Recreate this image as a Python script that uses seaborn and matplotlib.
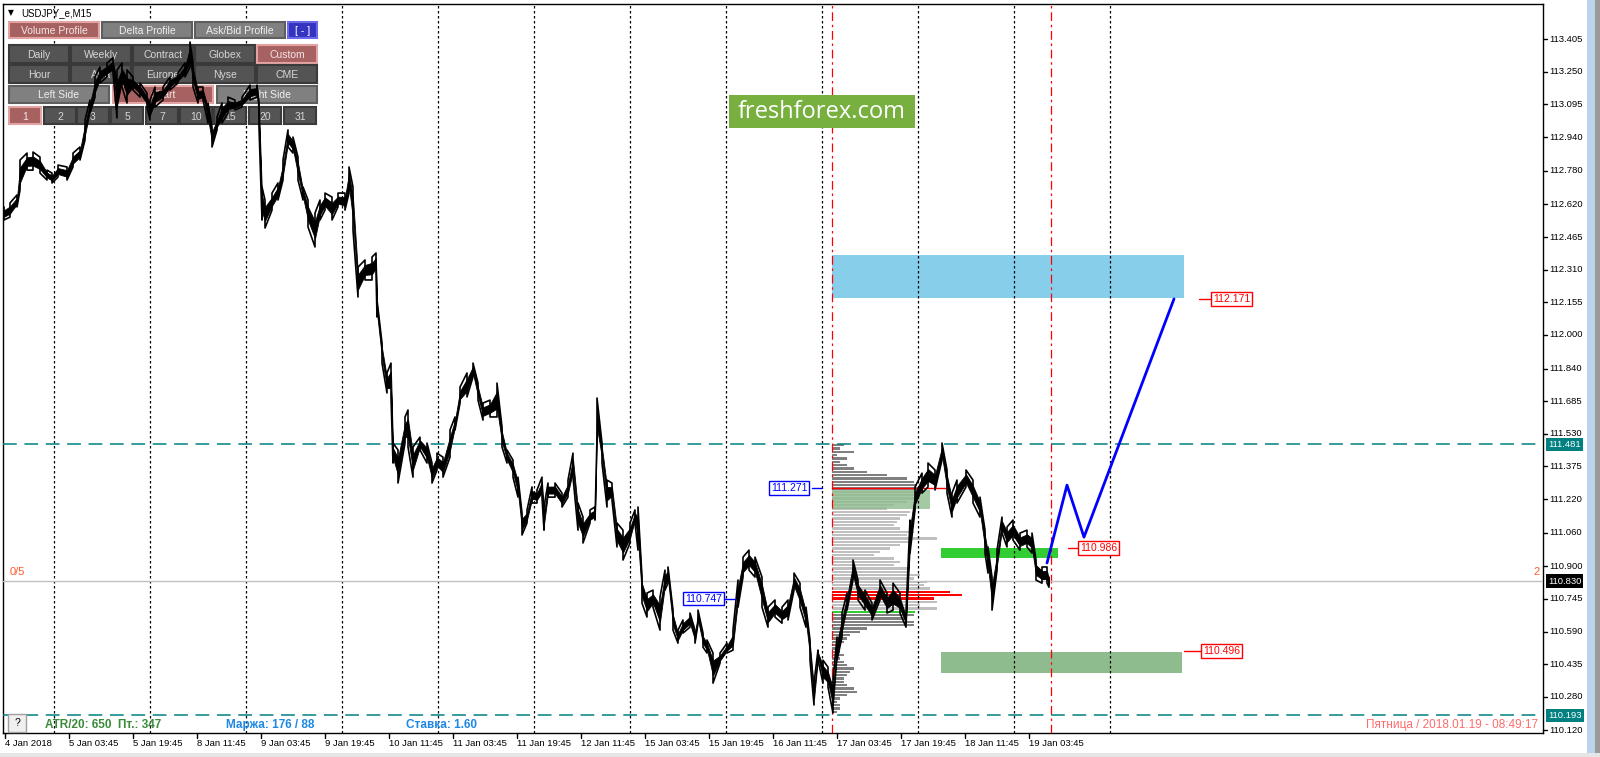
import matplotlib
matplotlib.use('Agg')
import matplotlib.pyplot as plt
import matplotlib.transforms as mtransforms
from matplotlib.patches import Rectangle
import pandas as pd
import seaborn as sns

W, H = 1600, 757

# USDJPY_e M15, bar 0 = 5 Jan 2018 00:00 (one bar = 15 min), high / low
price_bar = [-50, -44, -37, -34, -27, -21, -14, -7, -2, 4,
             13, 19, 26, 31, 36, 41, 46, 53, 59, 63,
             68, 73, 79, 86, 93, 96, 101, 109, 116, 124,
             131, 136, 139, 144, 149, 154, 158, 163, 168, 174,
             181, 188, 196, 203, 205, 208, 211, 218, 224, 229,
             234, 239, 244, 249, 254, 261, 266, 271, 278, 284,
             291, 295, 299, 304, 311, 318, 322, 323, 328, 333,
             337, 339, 344, 351, 354, 359, 366, 373, 378, 383,
             389, 396, 401, 406, 413, 419, 424, 429, 436, 443,
             448, 453, 459, 464, 468, 473, 478, 483, 488, 490,
             494, 501, 508, 514, 519, 524, 529, 536, 541, 543,
             548, 553, 558, 563, 569, 576, 581, 584, 588, 593,
             599, 606, 611, 614, 619, 624, 629, 636, 641, 644,
             649, 653, 659, 666, 673, 679, 684, 689, 695, 701,
             708, 714, 721, 728, 734, 740, 746, 752, 756, 760,
             764, 769, 774, 779, 783, 788, 793, 799, 804, 811,
             818, 826, 833, 839, 846, 852, 856, 861, 868, 874,
             881, 888, 893, 898, 903, 912, 919, 926, 931, 934,
             938, 943, 948, 953, 959, 966, 973, 978, 982, 988,
             993, 995]
price_high = [112.608, 112.627, 112.665, 112.831, 112.864, 112.869, 112.845, 112.783, 112.769, 112.807,
              112.798, 112.864, 112.893, 113.021, 113.116, 113.226, 113.273, 113.292, 113.316, 113.259,
              113.292, 113.259, 113.226, 113.197, 113.149, 113.116, 113.178, 113.178, 113.226, 113.245,
              113.292, 113.392, 113.292, 113.178, 113.178, 113.102, 112.988, 113.035, 113.102, 113.130,
              113.116, 113.130, 113.187, 113.187, 113.102, 112.703, 112.641, 112.674, 112.722, 112.831,
              112.974, 112.940, 112.845, 112.703, 112.641, 112.579, 112.641, 112.674, 112.655, 112.674,
              112.674, 112.798, 112.703, 112.322, 112.356, 112.370, 112.389, 112.166, 111.961, 111.819,
              111.866, 111.486, 111.453, 111.610, 111.643, 111.467, 111.514, 111.486, 111.391, 111.438,
              111.419, 111.548, 111.610, 111.752, 111.819, 111.866, 111.771, 111.676, 111.690, 111.771,
              111.562, 111.453, 111.405, 111.324, 111.153, 111.168, 111.277, 111.263, 111.324, 111.182,
              111.296, 111.296, 111.248, 111.310, 111.438, 111.201, 111.134, 111.168, 111.182, 111.700,
              111.486, 111.310, 111.296, 111.106, 111.072, 111.106, 111.168, 111.182, 110.849, 110.773,
              110.787, 110.754, 110.882, 110.897, 110.692, 110.597, 110.645, 110.678, 110.597, 110.692,
              110.583, 110.550, 110.488, 110.488, 110.535, 110.597, 110.835, 110.944, 110.977, 110.944,
              110.849, 110.706, 110.740, 110.706, 110.740, 110.868, 110.820, 110.706, 110.550, 110.345,
              110.502, 110.454, 110.421, 110.359, 110.564, 110.678, 110.773, 110.930, 110.835, 110.787,
              110.725, 110.835, 110.773, 110.820, 110.773, 110.678, 111.120, 111.277, 111.343, 111.391,
              111.358, 111.486, 111.358, 111.248, 111.310, 111.358, 111.310, 111.229, 111.072, 110.992,
              110.849, 110.977, 111.134, 111.087, 111.120, 111.058, 111.072, 111.058, 110.930, 110.897,
              110.897, 110.849]
price_low = [112.546, 112.560, 112.608, 112.688, 112.783, 112.783, 112.769, 112.736, 112.722, 112.750,
             112.736, 112.798, 112.831, 112.926, 113.054, 113.130, 113.197, 113.226, 113.245, 113.031,
             113.178, 113.102, 113.164, 113.130, 113.083, 113.021, 113.083, 113.116, 113.164, 113.197,
             113.226, 113.273, 113.178, 113.102, 113.116, 113.007, 112.893, 112.974, 113.007, 113.054,
             113.069, 113.083, 113.116, 113.130, 112.988, 112.546, 112.508, 112.593, 112.641, 112.736,
             112.893, 112.864, 112.736, 112.641, 112.513, 112.418, 112.546, 112.593, 112.546, 112.608,
             112.593, 112.674, 112.498, 112.180, 112.261, 112.261, 112.294, 112.085, 111.866, 111.724,
             111.705, 111.391, 111.296, 111.486, 111.467, 111.324, 111.453, 111.391, 111.296, 111.358,
             111.324, 111.419, 111.548, 111.676, 111.705, 111.800, 111.690, 111.595, 111.610, 111.610,
             111.467, 111.391, 111.324, 111.229, 111.049, 111.106, 111.201, 111.201, 111.229, 111.072,
             111.229, 111.229, 111.182, 111.229, 111.324, 111.072, 111.011, 111.106, 111.120, 111.514,
             111.391, 111.182, 111.215, 110.992, 110.930, 111.011, 111.106, 110.977, 110.725, 110.659,
             110.706, 110.597, 110.787, 110.820, 110.597, 110.535, 110.583, 110.611, 110.535, 110.630,
             110.516, 110.488, 110.345, 110.440, 110.488, 110.502, 110.706, 110.849, 110.882, 110.849,
             110.706, 110.611, 110.659, 110.630, 110.645, 110.787, 110.706, 110.611, 110.454, 110.241,
             110.454, 110.345, 110.326, 110.203, 110.454, 110.564, 110.692, 110.835, 110.740, 110.692,
             110.645, 110.740, 110.678, 110.692, 110.678, 110.611, 110.963, 111.168, 111.248, 111.277,
             111.263, 111.405, 111.248, 111.134, 111.201, 111.277, 111.201, 111.134, 110.963, 110.868,
             110.692, 110.882, 111.058, 110.992, 111.025, 110.977, 110.992, 110.963, 110.835, 110.820,
             110.820, 110.801]

# volume profile of the custom range (starts at bar 778), rows from the top down
profile_start = 778
profile_top = 111.476
profile_step = 0.01584
profile_volume = [12, 8, 22, 5, 15, 8, 15, 22, 35, 55,
                  75, 82, 85, 88, 82, 88, 82, 75, 62, 55,
                  78, 75, 68, 65, 62, 68, 82, 75, 105, 78,
                  68, 58, 48, 42, 62, 68, 62, 78, 75, 88,
                  82, 95, 92, 98, 118, 130, 102, 105, 88, 105,
                  83, 82, 75, 82, 82, 35, 28, 18, 15, 12,
                  8, 5, 8, 12, 8, 12, 15, 22, 18, 15,
                  12, 12, 15, 22, 25, 15, 8, 5, 8, 8, 5]
value_area_rows = (14, 50)
poc_rows = [44, 45, 46]
va_low_row = 50

# levels and zones
level_high = 111.481
level_low = 110.193
level_bid = 110.830
level_vpoc = 111.271
level_prev = 110.747
zone_sell = (778, 1130, 112.175, 112.380)
zone_buy = (887, 1004, 110.939, 110.987)
zone_support = (887, 1128, 110.394, 110.493)
zone_va = (778, 876, 111.172, 111.263)
forecast_bar = [993, 1013, 1030, 1120]
forecast_price = [110.916, 111.286, 111.039, 112.171]
range_marks = [778, 997]

price_ticks = ['113.405', '113.250', '113.095', '112.940', '112.780', '112.620', '112.465',
               '112.310', '112.155', '112.000', '111.840', '111.685', '111.530', '111.375',
               '111.220', '111.060', '110.900', '110.745', '110.590', '110.435', '110.280', '110.120']
time_bar = [-49, 15, 79, 143, 207, 271, 335, 399, 463, 527, 591, 655, 719, 783, 847, 911, 975]
time_labels = ['4 Jan 2018', '5 Jan 03:45', '5 Jan 19:45', '8 Jan 11:45', '9 Jan 03:45',
               '9 Jan 19:45', '10 Jan 11:45', '11 Jan 03:45', '11 Jan 19:45', '12 Jan 11:45',
               '15 Jan 03:45', '15 Jan 19:45', '16 Jan 11:45', '17 Jan 03:45', '17 Jan 19:45',
               '18 Jan 11:45', '19 Jan 03:45']

sns.set_theme(style='white')
plt.rcParams['font.family'] = ['Liberation Sans', 'DejaVu Sans']

fig = plt.figure(figsize=(W / 100, H / 100), dpi=100)
fig.patch.set_facecolor('white')
ax = fig.add_axes([3 / W, 1 - 733 / H, 1540 / W, 729 / H])
ax.set_xticks([])
ax.set_yticks([])
for s in ax.spines.values():
    s.set_color('black')
    s.set_linewidth(1)
    s.set_visible(True)


def fx(x):
    return x / W


def fy(y):
    return 1 - y / H


x_fig_y_data = mtransforms.blended_transform_factory(fig.transFigure, ax.transData)
x_data_y_fig = mtransforms.blended_transform_factory(ax.transData, fig.transFigure)

# zones
for (b0, b1, p0, p1), col in [(zone_sell, '#87CEEB'), (zone_buy, '#32CD32'), (zone_support, '#8FBC8F')]:
    ax.add_patch(Rectangle((b0, p0), b1 - b0, p1 - p0, fc=col, ec='none', zorder=1))

# volume profile
rows = pd.DataFrame({'volume': profile_volume})
rows['price'] = [profile_top - i * profile_step for i in range(len(rows))]
colors = []
for i in range(len(rows)):
    if i in poc_rows:
        colors.append('#FF0000')
    elif i == va_low_row:
        colors.append('#32CD32')
    elif value_area_rows[0] <= i < value_area_rows[1]:
        colors.append('#C0C0C0')
    else:
        colors.append('#808080')
ax.barh(rows['price'], rows['volume'], left=profile_start, height=profile_step * 0.72,
        color=colors, zorder=2, linewidth=0)
b0, b1, p0, p1 = zone_va
ax.add_patch(Rectangle((b0, p0), b1 - b0, p1 - p0, fc='#8FBC8F', ec='none', alpha=0.8, zorder=2.5))
ax.plot([profile_start, 893], [level_vpoc, level_vpoc], color='#FF0000', lw=1, zorder=2.6)

# separators and levels
for d in range(0, 1057, 96):
    ax.axvline(d, color='black', lw=0.9, ls=(0, (2, 2)), zorder=2.7)
for b in range_marks:
    ax.axvline(b, color='#FF0000', lw=0.9, ls=(0, (7, 3, 2, 3)), zorder=2.8)
for lv in [level_high, level_low]:
    ax.axhline(lv, color='#008080', lw=1.1, ls=(0, (9, 5)), zorder=2.8)
ax.axhline(level_bid, color='#C0C0C0', lw=1, zorder=2.8)

# panel buttons (drawn under the price)
styles = {'rose': ('#A86161', '#E3A3A3', '#F2E6E6'),
          'dark': ('#545454', '#3A3A3A', '#D6D6D6'),
          'grey': ('#808080', '#5E5E5E', '#F0F0F0'),
          'blue': ('#3434C0', '#6A6AE8', '#FFFFFF')}
buttons = [(9, 22, 99, 38, 'Volume Profile', 'rose'), (102, 22, 192, 38, 'Delta Profile', 'grey'),
           (195, 22, 285, 38, 'Ask/Bid Profile', 'grey'), (288, 22, 317, 38, '[ - ]', 'blue')]
for i, t in enumerate(['Daily', 'Weekly', 'Contract', 'Globex', 'Custom']):
    buttons.append((9 + 62 * i, 45, 69 + 62 * i, 63, t, 'rose' if t == 'Custom' else 'dark'))
for i, t in enumerate(['Hour', 'Asia', 'Europe', 'Nyse', 'CME']):
    buttons.append((9 + 62 * i, 65, 69 + 62 * i, 83, t, 'dark'))
buttons += [(9, 86, 109, 103, 'Left Side', 'grey'), (113, 86, 213, 103, 'Chart', 'rose'),
            (217, 86, 317, 103, 'Right Side', 'grey')]
for i, t in enumerate(['1', '2', '3', '5', '7', '10', '15', '20', '31']):
    x0 = [9, 44, 77, 111, 146, 180, 214, 249, 284][i]
    buttons.append((x0, 107, x0 + 32, 124, t, 'rose' if t == '1' else 'dark'))
for x0, y0, x1, y1, t, st in buttons:
    fc, ec, tc = styles[st]
    ax.add_patch(Rectangle((fx(x0), fy(y1)), (x1 - x0) / W, (y1 - y0) / H, transform=fig.transFigure,
                           fc=fc, ec=ec, lw=1.5, zorder=3))
    ax.text(fx((x0 + x1) / 2), fy((y0 + y1) / 2 + 1), t, transform=fig.transFigure, ha='center',
            va='center', fontsize=7.5, color=tc, zorder=3.1)
fig.text(fx(8), fy(13), '\u25BC', fontsize=5.5, va='center', ha='left', color='black',
         family=['DejaVu Sans'])
fig.text(fx(21), fy(13), 'USDJPY_e,M15', fontsize=7, va='center', ha='left', color='black')

# price: a solid core between the high/low envelope, plus each sample as a high-low stroke
prices = pd.DataFrame({'bar': price_bar, 'high': price_high, 'low': price_low})
prices['core_hi'] = prices['high'] - 0.25 * (prices['high'] - prices['low'])
prices['core_lo'] = prices['low'] + 0.25 * (prices['high'] - prices['low'])
ax.fill_between(prices['bar'], prices['core_lo'], prices['core_hi'], color='black', lw=0.6, zorder=5)
path_x, path_y = [], []
for i, (b, hi, lo) in enumerate(zip(price_bar, price_high, price_low)):
    path_x += [b, b]
    path_y += [hi, lo] if i % 2 == 0 else [lo, hi]
price_path = pd.DataFrame({'bar': path_x, 'price': path_y})
sns.lineplot(data=price_path, x='bar', y='price', sort=False, estimator=None, color='black',
             lw=1.2, ax=ax, zorder=5)

# forecast
sns.lineplot(x=forecast_bar, y=forecast_price, color='#0000FF', lw=2, ax=ax, zorder=6)

# level labels
def level_label(bar, price, text, color, line_from, line_to):
    ax.plot([line_from, line_to], [price, price], color=color, lw=1, zorder=6)
    ax.text(bar, price, text, color=color, fontsize=7.5, ha='left', va='center', zorder=7,
            bbox=dict(boxstyle='square,pad=0.18', fc='white', ec=color, lw=1))

level_label(717, level_vpoc, '111.271', '#0000FF', 758, 768)
level_label(631, level_prev, '110.747', '#0000FF', 670, 681)
level_label(1026, 110.986, '110.986', '#FF0000', 1014, 1024)
level_label(1149, 110.496, '110.496', '#FF0000', 1130, 1147)
level_label(1159, 112.171, '112.171', '#FF0000', 1145, 1157)

# logo
ax.add_patch(Rectangle((fx(729), fy(128)), 186 / W, 33 / H, transform=fig.transFigure,
                       fc='#77B03F', ec='none', zorder=8))
ax.text(fx(822), fy(112), 'freshforex.com', transform=fig.transFigure, ha='center', va='center',
        fontsize=17, color='white', family=['Open Sans', 'DejaVu Sans'], zorder=9)

ax.set_xlabel('')
ax.set_ylabel('')
ax.set_xlim(-51, 1489)
ax.set_ylim(110.108, 113.5725)

# right price scale
for t in price_ticks:
    v = float(t)
    ax.plot([fx(1543), fx(1547)], [v, v], color='black', lw=1, transform=x_fig_y_data, clip_on=False)
    ax.text(fx(1549), v, t, fontsize=6.8, ha='left', va='center', color='black',
            transform=x_fig_y_data, clip_on=False)
for v, fc in [(level_high, '#008080'), (level_bid, '#000000'), (level_low, '#008080')]:
    ax.text(fx(1548), v, f'{v:.3f}', fontsize=6.8, ha='left', va='center', color='white',
            transform=x_fig_y_data, clip_on=False, zorder=10,
            bbox=dict(boxstyle='square,pad=0.22', fc=fc, ec='none'))

# time scale
for b, t in zip(time_bar, time_labels):
    ax.plot([b, b], [fy(733), fy(738)], color='black', lw=1, transform=x_data_y_fig, clip_on=False)
    ax.text(b, fy(744), t, fontsize=6.8, ha='left', va='center', color='black',
            transform=x_data_y_fig, clip_on=False)

# info texts
fig.text(fx(10), fy(572), '0/5', fontsize=8, color='#FF5A2A', ha='left', va='center')
fig.text(fx(1533), fy(572), '2', fontsize=8, color='#FF5A2A', ha='left', va='center')
fig.text(fx(45), fy(725), 'ATR/20: 650  Пт.: 347', fontsize=8.5, weight='bold', color='#3A8A3A',
         ha='left', va='center')
fig.text(fx(226), fy(725), 'Маржа: 176 / 88', fontsize=8.5, weight='bold', color='#1E88E5',
         ha='left', va='center')
fig.text(fx(406), fy(725), 'Ставка: 1.60', fontsize=8.5, weight='bold', color='#1E88E5',
         ha='left', va='center')
fig.text(fx(1538), fy(725), 'Пятница / 2018.01.19 - 08:49:17', fontsize=8.5, color='#FF6B6B',
         ha='right', va='center')
fig.patches.append(Rectangle((fx(8), fy(732)), 18 / W, 18 / H, transform=fig.transFigure,
                             fc='#F0F0F0', ec='#A0A0A0', lw=1))
fig.text(fx(17), fy(723), '?', fontsize=7.5, color='black', ha='center', va='center')

# window frame bits
fig.patches.append(Rectangle((fx(1587), 0), 8 / W, 1, transform=fig.transFigure, fc='#BCD3EC', ec='none'))
fig.patches.append(Rectangle((fx(1595), 0), 5 / W, 1, transform=fig.transFigure, fc='#9A9A9A', ec='none'))
fig.patches.append(Rectangle((0, 0), 1, 4 / H, transform=fig.transFigure, fc='#E6E6E6', ec='none'))

fig.savefig('out.png', dpi=100)
